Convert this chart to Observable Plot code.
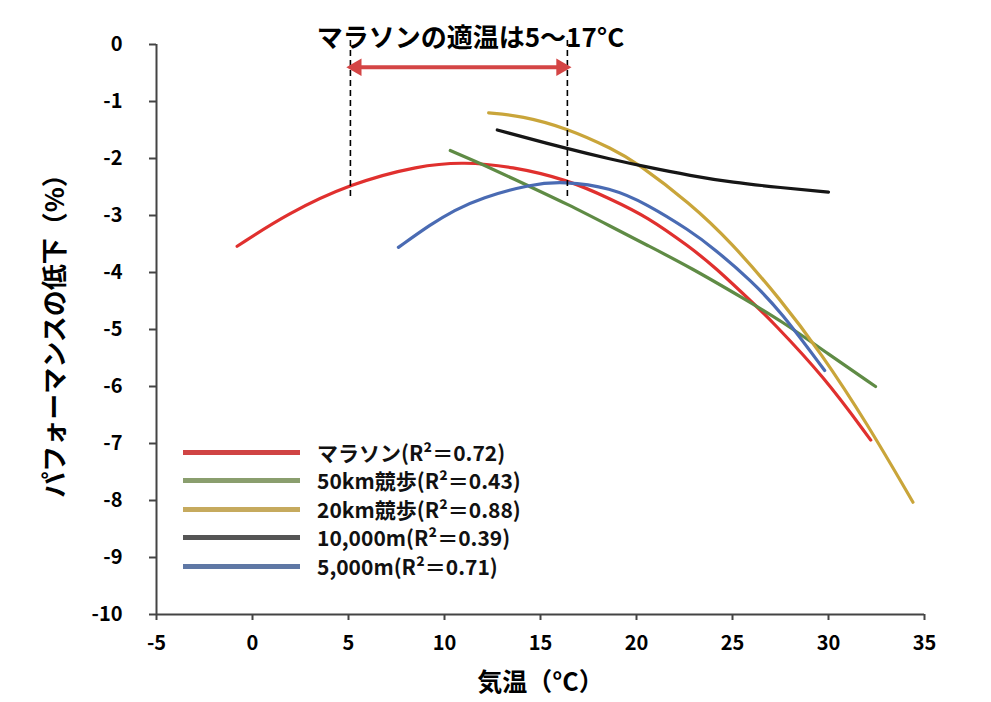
<!DOCTYPE html>
<html><head><meta charset="utf-8">
<script src="https://cdn.jsdelivr.net/npm/d3@7"></script>
<script src="https://cdn.jsdelivr.net/npm/@observablehq/plot@0.6"></script>
<style>
body{margin:0;background:#fff;}
#wrap{position:relative;width:991px;height:702px;font-family:'Noto Sans CJK JP',sans-serif;}
#legend{position:absolute;left:183px;top:438px;font-weight:bold;font-size:21px;color:#111;line-height:1;}
.row{display:flex;align-items:center;height:28.5px;white-space:nowrap;}
.sw{width:117px;height:5px;margin-right:17px;}
</style></head><body><div id="wrap"><div id="legend"></div></div>
<script>
// ---- data ----
const seriesNames = ["marathon", "walk50", "walk20", "run10000", "run5000"];
const seriesLabels = ["マラソン(R²＝0.72)", "50km競歩(R²＝0.43)", "20km競歩(R²＝0.88)", "10,000m(R²＝0.39)", "5,000m(R²＝0.71)"];
const lineColors = ["#e0302e", "#5f8b45", "#c9a53a", "#161616", "#4a6bb3"];
const legendColors = ["#d04444", "#8a9e6e", "#c6aa5e", "#555555", "#5f78a5"];

const marathon = [[-0.8,-3.54],[1.8,-2.97],[5.1,-2.44],[8.7,-2.12],[11,-2.06],[13.5,-2.14],[16.4,-2.37],[18.65,-2.71],[20.55,-3.02],[22.8,-3.56],[24,-3.88],[26.3,-4.61],[27,-4.84],[29.75,-5.82],[32.2,-6.94]];
const walk50 = [[10.3,-1.86],[11.9,-2.09],[14.3,-2.47],[16.4,-2.8],[18.65,-3.19],[20.55,-3.52],[22.8,-3.91],[25.8,-4.5],[27.5,-4.84],[30,-5.43],[32.45,-6.0]];
const walk20 = [[12.3,-1.2],[14,-1.25],[16.4,-1.47],[18.8,-1.84],[20,-2.07],[22.8,-2.79],[24.9,-3.46],[27.5,-4.47],[29.6,-5.41],[32,-6.64],[34.4,-8.03]];
const run10000 = [[12.75,-1.5],[16.4,-1.83],[18.65,-2.01],[20.55,-2.15],[22.8,-2.3],[25,-2.42],[27.5,-2.51],[30,-2.59]];
const run5000 = [[7.6,-3.56],[9.3,-3.15],[10.5,-2.91],[11.9,-2.69],[14.5,-2.45],[16.2,-2.4],[18.65,-2.51],[20.55,-2.8],[22.8,-3.27],[24,-3.57],[26,-4.15],[27.5,-4.68],[29.8,-5.72]];
const seriesData = [marathon, walk50, walk20, run10000, run5000];

const xTicks = [-5, 0, 5, 10, 15, 20, 25, 30, 35];
const yTicks = [0, -1, -2, -3, -4, -5, -6, -7, -8, -9, -10];

const titleText = "マラソンの適温は5〜17°C";
const xTitle = "気温（°C）";
const yTitle = "パフォーマンスの低下（%）";
const rangeLo = 5.1, rangeHi = 16.4;
const arrowY = -0.4, dashTop = 0.07, dashBottom = -2.68;

// ---- build ----
const rows = seriesData.flatMap((pts, i) => pts.map(([x, y]) => ({series: seriesNames[i], x, y})));
const font = "'Noto Sans CJK JP', sans-serif";

const plot = Plot.plot({
  width: 991, height: 702,
  marginLeft: 156, marginRight: 67, marginTop: 44, marginBottom: 88,
  style: {fontFamily: font, fontSize: "20px", fontWeight: "bold", background: "white", color: "#000"},
  x: {domain: [-5, 35], label: null},
  y: {domain: [-10, 0], label: null},
  color: {domain: seriesNames, range: lineColors},
  marks: [
    Plot.axisX({ticks: xTicks, tickSize: 6, tickPadding: 15, tickFormat: d => String(d), stroke: "#444", strokeWidth: 2, fill: "#000", label: null}),
    Plot.axisY({ticks: yTicks, tickSize: 7, tickPadding: 27, tickFormat: d => String(d), stroke: "#444", strokeWidth: 2, fill: "#000", label: null}),
    Plot.ruleX([-5], {y1: -10, y2: 0, stroke: "#444", strokeWidth: 2}),
    Plot.ruleY([-10], {x1: -5, x2: 35, stroke: "#444", strokeWidth: 2}),
    Plot.line(rows, {x: "x", y: "y", z: "series", stroke: "series", curve: "basis", strokeWidth: 3.2}),
    Plot.ruleX([rangeLo, rangeHi], {y1: dashTop, y2: dashBottom, stroke: "#000", strokeWidth: 1.6, strokeDasharray: "6,4"}),
    Plot.ruleY([arrowY], {x1: rangeLo, x2: rangeHi, stroke: "#d44545", strokeWidth: 4, insetLeft: 8, insetRight: 8}),
    Plot.dot([{x: rangeHi, y: arrowY}], {x: "x", y: "y", symbol: "triangle", r: 6.5, fill: "#d44545", stroke: null, rotate: 90, dx: -6}),
    Plot.dot([{x: rangeLo, y: arrowY}], {x: "x", y: "y", symbol: "triangle", r: 6.5, fill: "#d44545", stroke: null, rotate: -90, dx: 6}),
    Plot.text([titleText], {frameAnchor: "top", textAnchor: "middle", dx: -70, dy: -6, fontSize: 26, fontWeight: "bold", fill: "#000", lineAnchor: "middle"}),
    Plot.text([xTitle], {frameAnchor: "bottom", textAnchor: "middle", dy: 68, fontSize: 25, fontWeight: "bold", fill: "#000", lineAnchor: "middle"}),
    Plot.text([yTitle], {frameAnchor: "left", textAnchor: "middle", dx: -101, rotate: -90, fontSize: 26, fontWeight: "bold", fill: "#000", lineAnchor: "middle"})
  ]
});

const wrap = document.getElementById("wrap");
wrap.insertBefore(plot, wrap.firstChild);
const legend = document.getElementById("legend");
seriesLabels.forEach((lab, i) => {
  const row = document.createElement("div");
  row.className = "row";
  const sw = document.createElement("div");
  sw.className = "sw";
  sw.style.background = legendColors[i];
  const t = document.createElement("span");
  t.textContent = lab;
  row.appendChild(sw); row.appendChild(t);
  legend.appendChild(row);
});
</script></body></html>
